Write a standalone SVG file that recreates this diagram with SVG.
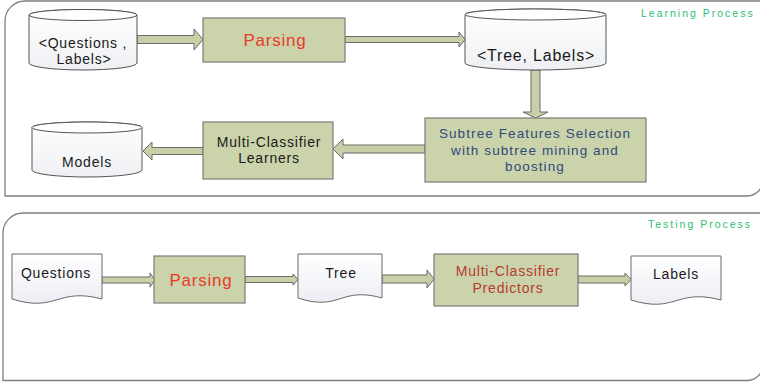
<svg xmlns="http://www.w3.org/2000/svg" width="760" height="382" viewBox="0 0 760 382">
<style>
.frame{fill:#ffffff;stroke:#7f7f7f;stroke-width:1.3}
.box{fill:#cbd3ab;stroke:#7c7c7c;stroke-width:1.2}
.arr{fill:#c9d0a7;stroke:#6b6b6b;stroke-width:1}
.cyl{fill:url(#gc);stroke:#555555;stroke-width:1}
.doc{fill:url(#gd);stroke:#6a6a6a;stroke-width:1}
text{font-family:"Liberation Sans",Arial,sans-serif;text-anchor:middle}
.lbl{font-size:14px;letter-spacing:0.8px;fill:#1a1a1a}
.red{font-size:17px;letter-spacing:0.8px;fill:#e8392b}
.dred{font-size:14px;letter-spacing:0.8px;fill:#b83b2e}
.blue{font-size:13.5px;letter-spacing:1.1px;fill:#2f4a7a}
.title{font-size:10.5px;letter-spacing:2px;fill:#2ebd74;text-anchor:start}
</style>
<defs>
<linearGradient id="gc" x1="0" y1="0" x2="0" y2="1"><stop offset="0" stop-color="#ffffff"/><stop offset="1" stop-color="#eef0f3"/></linearGradient>
<linearGradient id="gd" x1="0" y1="0" x2="0" y2="1"><stop offset="0" stop-color="#ffffff"/><stop offset="1" stop-color="#eceef4"/></linearGradient>
</defs>
<g id="learning-frame">
<path class="frame" d="M5,196 V21 A20,20 0 0 1 25,1 H763 V180 A16,16 0 0 1 747,196 Z"/>
<text class="title" x="641" y="17">Learning Process</text>
</g>
<g id="testing-frame">
<path class="frame" d="M3,380.5 V233 A20,20 0 0 1 23,213 H763 V365 A16,16 0 0 1 747,380.5 Z"/>
<text class="title" x="648" y="228">Testing Process</text>
</g>
<g id="connectors">
<polygon class="arr" points="137,35.5 194,35.5 194,29 203,39.5 194,50 194,43.5 137,43.5"/>
<polygon class="arr" points="345,36.5 459,36.5 459,32 465,39.5 459,47 459,42.5 345,42.5"/>
<polygon class="arr" points="531,70 540,70 540,112 548,112 535.5,118 523,112 531,112"/>
<polygon class="arr" points="425,145 343,145 343,139 333,149 343,159 343,153 425,153"/>
<polygon class="arr" points="203,147.5 152,147.5 152,142 143,151 152,160 152,154.5 203,154.5"/>
<polygon class="arr" points="102,277 150,277 150,273 155,280 150,287 150,283 102,283"/>
<polygon class="arr" points="245,276.5 293,276.5 293,274 298,279.5 293,285 293,282.5 245,282.5"/>
<polygon class="arr" points="382,275 427,275 427,270 434,279 427,288 427,283 382,283"/>
<polygon class="arr" points="578,276 625,276 625,273 631,279.5 625,286 625,283 578,283"/>
</g>
<g id="questions-labels">
<path class="cyl" d="M29,15 A54,5.5 0 0 1 137,15 V63 A54,7 0 0 1 29,63 Z"/>
<ellipse cx="83" cy="15" rx="54" ry="5.5" fill="#ffffff" stroke="#555555"/>
<text class="lbl" x="83" y="48">&lt;Questions ,</text>
<text class="lbl" x="84" y="64">Labels&gt;</text>
</g>
<g id="parsing-learn">
<rect class="box" x="203" y="18" width="142" height="44"/>
<text class="red" x="275" y="46">Parsing</text>
</g>
<g id="tree-labels">
<path class="cyl" d="M465,14.5 A70.5,5.5 0 0 1 606,14.5 V63 A70.5,7 0 0 1 465,63 Z"/>
<ellipse cx="535.5" cy="14.5" rx="70.5" ry="5.5" fill="#ffffff" stroke="#555555"/>
<text class="lbl" x="536" y="61" style="font-size:16px">&lt;Tree, Labels&gt;</text>
</g>
<g id="subtree-selection">
<rect class="box" x="425" y="118" width="221" height="64"/>
<text class="blue" x="535" y="138">Subtree Features Selection</text>
<text class="blue" x="535" y="155">with subtree mining and</text>
<text class="blue" x="535" y="171">boosting</text>
</g>
<g id="learners">
<rect class="box" x="203" y="122" width="130" height="57"/>
<text class="lbl" x="269" y="147">Multi-Classifier</text>
<text class="lbl" x="269" y="163">Learners</text>
</g>
<g id="models">
<path class="cyl" d="M32,127.5 A55,5.5 0 0 1 142,127.5 V170 A55,7 0 0 1 32,170 Z"/>
<ellipse cx="87" cy="127.5" rx="55" ry="5.5" fill="#ffffff" stroke="#555555"/>
<text class="lbl" x="87" y="167">Models</text>
</g>
<g id="questions">
<path class="doc" d="M12,254 H102 V299 C57,287 57,313 12,299 Z"/>
<text class="lbl" x="56" y="278">Questions</text>
</g>
<g id="parsing-test">
<rect class="box" x="154" y="256" width="91" height="47"/>
<text class="red" x="201" y="286">Parsing</text>
</g>
<g id="tree">
<path class="doc" d="M298,254 H382 V298 C340,286 340,312 298,298 Z"/>
<text class="lbl" x="341" y="278">Tree</text>
</g>
<g id="predictors">
<rect class="box" x="434" y="254" width="144" height="52"/>
<text class="dred" x="508" y="276">Multi-Classifier</text>
<text class="dred" x="508" y="293">Predictors</text>
</g>
<g id="labels">
<path class="doc" d="M631,256 H721 V300 C676,288 676,314 631,300 Z"/>
<text class="lbl" x="676" y="279">Labels</text>
</g>
</svg>
